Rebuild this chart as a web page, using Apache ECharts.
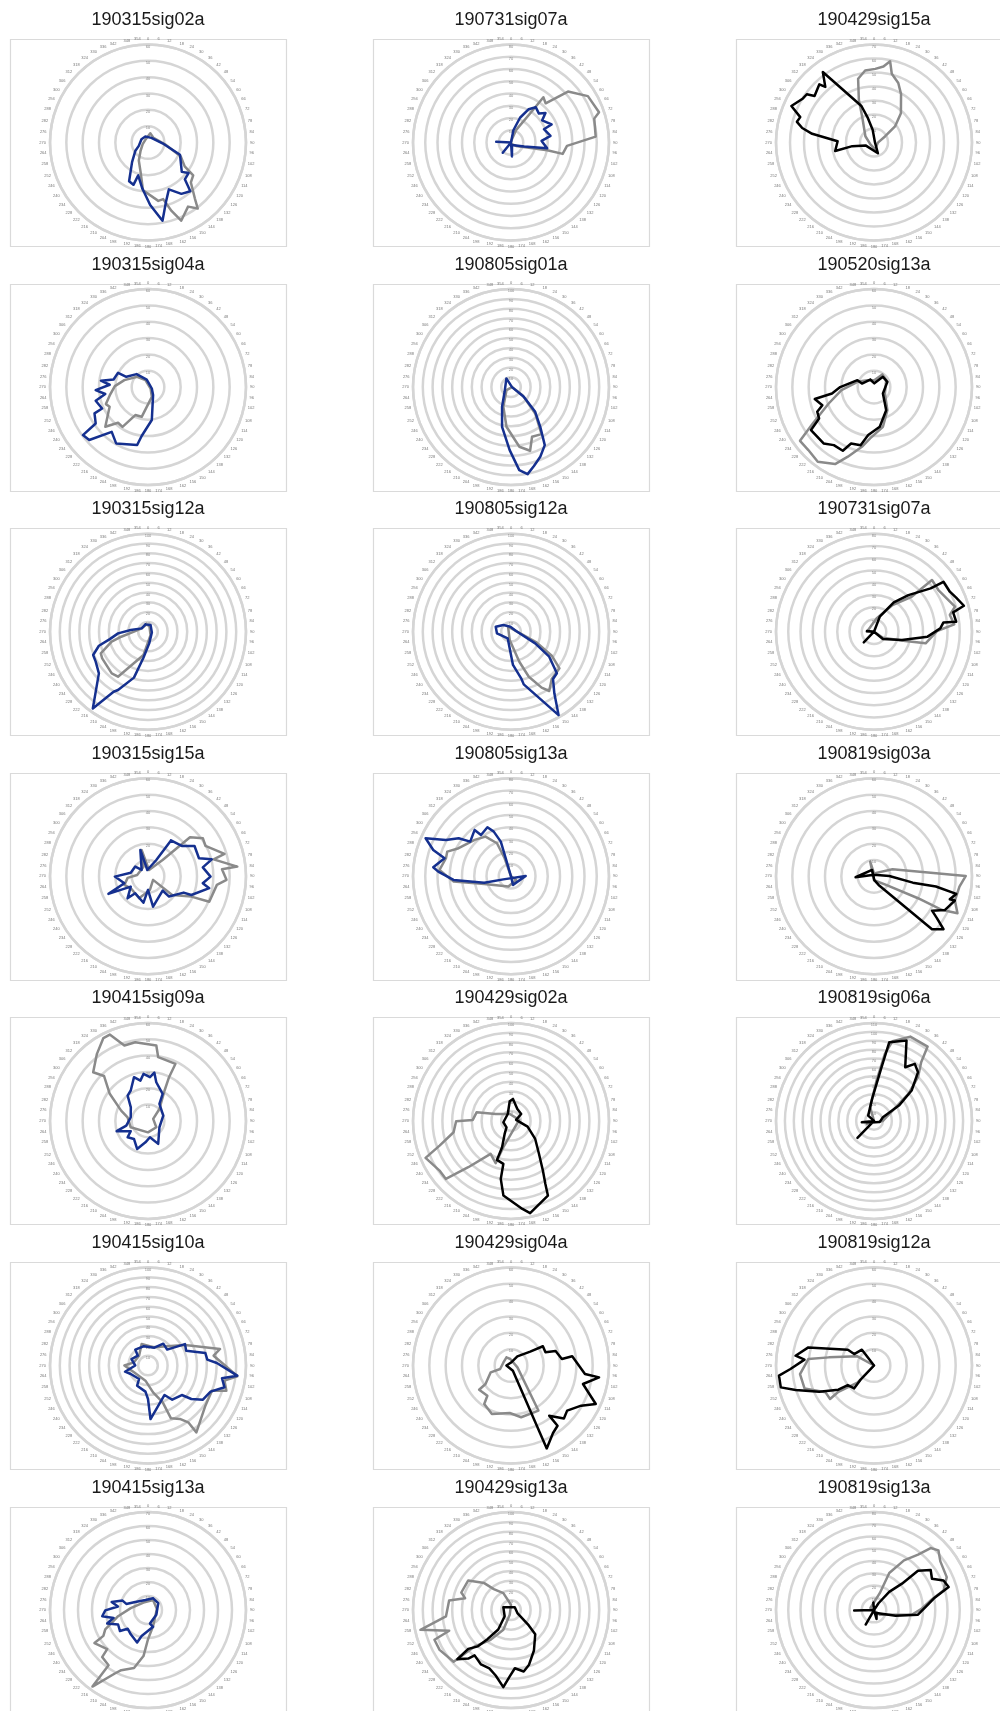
<!DOCTYPE html>
<html>
<head>
<meta charset="utf-8">
<title>Polar tuning traces</title>
<script src="https://cdn.jsdelivr.net/npm/echarts@6/dist/echarts.min.js"></script>
<style>
  html, body { margin: 0; padding: 0; background: #ffffff; }
  #chart { width: 1000px; height: 1711px; }
</style>
</head>
<body>
<div id="chart"></div>
<script>
// Panel titles, row by row (three per row)
const panelNames = [
  '190315sig02a', '190731sig07a', '190429sig15a',
  '190315sig04a', '190805sig01a', '190520sig13a',
  '190315sig12a', '190805sig12a', '190731sig07a',
  '190315sig15a', '190805sig13a', '190819sig03a',
  '190415sig09a', '190429sig02a', '190819sig06a',
  '190415sig10a', '190429sig04a', '190819sig12a',
  '190415sig13a', '190429sig13a', '190819sig13a'
];

// Number of radial rings in each panel, and the value step between rings
const ringCounts = [6, 8, 7, 6, 10, 6, 10, 10, 8, 6, 8, 6, 6, 10, 11, 10, 6, 6, 7, 10, 8];
const ringStep = 10;

// Angle ticks every 6 degrees, 0 at the top, clockwise
const angleStep = 6;

// Colour of the foreground trace in each panel
const traceColours = [
  'blue', 'blue', 'black',
  'blue', 'blue', 'black',
  'blue', 'blue', 'black',
  'blue', 'blue', 'black',
  'blue', 'black', 'black',
  'blue', 'black', 'black',
  'blue', 'black', 'black'
];

// Traces: [radius, angle in degrees]
const p01Grey = [[2.3,315],[5.8,14],[4.4,50],[10.5,96],[21.8,113],[26.8,123],[34.2,126],[35.9,133],[44.6,140],[50.6,143],[46.3,148],[52,157],[44.3,161],[35.9,165],[36.3,170],[29.4,186],[18.7,194],[12.4,207],[6.8,222],[3.4,253]];
const p01Line = [[6,250],[4.5,297],[4,336],[3.5,36],[8.9,93],[21,111],[27.4,131],[31.1,127],[31.9,135],[39.5,139],[37.5,147],[31.4,156],[37.8,163],[48.7,169.5],[38.3,178],[28.4,187],[21,196.6],[27.4,199],[26.4,206],[15.5,219],[9.2,237]];

const p02Grey = [[2.8,16],[10.9,22],[31.5,34],[45.4,35.6],[42.7,41.5],[62.4,48.2],[73.3,58.9],[76,71],[70.7,74],[69.3,86],[45.8,93.5],[43.2,102.4],[30.3,102],[5,124],[1,200]];
const p02Line = [[12.1,273],[0,0],[10.2,11],[21.5,20],[30.8,28],[35.2,35],[32.8,44],[37,49.5],[31.2,54.6],[36.3,66],[29,68],[32.7,80.5],[25,87],[29.9,99],[11.2,106.6],[2.2,158],[11.4,176],[0,0],[10.7,219],[0,0]];

const p03Grey = [[2.9,242],[7.6,306],[20.4,335.5],[32.2,340.4],[46.9,346],[51.8,353],[52.6,1],[54.7,7.1],[59.2,11.2],[50.7,14.5],[45.9,22.2],[39.6,29.2],[28.4,42.6],[18.9,52.6],[9.2,60.7],[2.8,91],[5,170]];
const p03Line = [[0.7,90],[9.2,354],[17.9,346],[27.6,341],[62.2,324],[52.8,318.8],[57,316.8],[53.9,308],[59.1,305.7],[59.7,301.8],[64.5,293.8],[55.7,289],[57,285],[52.3,281.4],[44.6,278],[26,272],[28.4,257.6],[15.7,260.5],[6.4,251],[8.2,160]];

const p04Grey = [[4.6,340],[9.2,313.4],[15.1,286.4],[20.3,271.7],[23.9,258],[27.8,248],[26.4,242.9],[35.7,227.1],[28.5,220],[28.9,212.7],[18.8,204.4],[18.6,192],[6.4,158.5],[1.8,118]];
const p04Line = [[4.7,350.5],[10.6,318.7],[14.7,295.4],[20.3,295.5],[21.6,282.5],[29.1,277.7],[23.5,273.5],[32.1,266.7],[26.5,260.8],[33.1,255.4],[31,245],[36.5,243.8],[39,235.2],[49.5,233.6],[48.4,228],[35.3,219],[39.6,209.5],[36.1,190.6],[30.2,187.4],[20.3,173.4],[5.8,147.6],[2.5,110]];

const p05Grey = [[1,90],[14.3,125],[36.5,137.4],[57.2,147],[55,157],[67.8,163.3],[61.5,172],[40.7,186.5],[21.5,201.3],[5.5,236]];
const p05Line = [[10,332],[1,90],[16.3,127],[35.3,135.6],[50.3,143.6],[68.5,149.8],[77.1,157.2],[83.9,163.8],[90.4,169.2],[85.1,174.3],[64.3,181.2],[41.5,192.7],[22,204.5],[8.1,233.6]];

const p06Grey = [[4.2,2],[9.3,33.4],[8.6,60],[7.7,120],[16.3,149.8],[24.9,167.3],[31.5,184.3],[37.3,191.5],[45.5,200.6],[52.8,206.8],[57.2,217],[55.7,226.2],[56,234],[43.6,239.3],[29.5,250.1],[20,264.7],[10.6,287.7],[6,314.6]];
const p06Line = [[5.2,333.4],[2.3,5],[8.3,41],[8.8,68.5],[6.7,125.5],[16,152.2],[24.5,171.7],[29.6,186.9],[36.5,193],[37.3,202.1],[43.4,206.1],[43.2,214.7],[46.3,221.8],[46.7,235.7],[38.7,240.3],[37.9,246.5],[33.5,250.7],[37,258.6],[26,261.4],[20.7,270],[11,292.8],[7.7,286.6]];

const p07Grey = [[7.6,350],[5.5,16],[4.3,143],[24.2,191],[55.2,213.7],[56.4,221],[54.1,239.8],[53,245.3],[38.5,254.6],[27.8,259.4],[14.3,270],[7.3,298]];
const p07Line = [[7.9,341],[7.3,21],[4,100],[12,174],[26.9,190],[49,197],[66.9,207.2],[70.6,209.8],[96.5,215.7],[65.7,229.7],[61.5,240.2],[60.8,247],[52.1,254],[39.7,259],[30.6,266.8],[17.7,275.5],[7.3,297.6]];

const p08Grey = [[6,330],[28.2,112.7],[48.3,120.5],[62,127.1],[63.7,139.3],[72,147.2],[65.1,151.3],[49.4,158.4],[31.8,164.5],[8.6,189]];
const p08Line = [[10.3,311],[5.1,353],[5.2,82],[27.4,115.7],[46.6,123.2],[63.2,132.2],[64.6,138.4],[76.9,144.9],[98,150.3],[55.3,166.4],[48.7,167.7],[34,176.6],[7.6,206],[14.4,263],[16.4,288]];

const p09Grey = [[5.8,270],[11,10.8],[26.5,34.8],[41.9,47.1],[63.4,48.3],[62.6,57.1],[69.2,72.8],[63.4,77.6],[65.8,84.8],[51.5,89.4],[43.2,102.7],[26.6,106.6],[8.8,123.8],[0,0]];
const p09Line = [[5.8,275.5],[0,0],[13.1,21],[28.9,34],[41,43.2],[58.2,52.6],[69.8,54.3],[70,62.2],[72.6,67.5],[76.4,73.9],[66.5,76.3],[67.6,83.1],[57.2,82.4],[54.2,87.1],[43.9,95.3],[23.8,106.5],[9.4,129.5],[0,0],[12.1,223.6],[0,0]];

const p10Grey = [[13.4,41.9],[35.1,47.1],[40.9,55.3],[39.8,62.1],[48.8,73.7],[41.5,75.5],[55,83.8],[45.5,84.6],[48.1,92.6],[42.5,97.1],[40.6,112.5],[29.3,115.1],[18.7,127.6],[3.8,125],[8.4,172],[14.5,202],[12.8,235],[15.4,250],[12.5,265.5],[6.7,277],[6.5,335],[16.6,346.4],[3.9,9]];
const p10Line = [[26.1,32.6],[27.8,48],[34,56.9],[33.1,70.5],[40.4,75.1],[34,80.7],[38.3,90.3],[33.8,97.2],[38.2,101],[28.9,113.3],[24,114.6],[17.9,133.9],[12.5,134.2],[18.8,170.5],[8.3,180],[16.4,189.7],[13,217],[18.4,222.9],[12.3,239.2],[26.5,246],[15.1,253.6],[20.3,269.5],[10.8,281.9],[9.8,307.3],[5.5,315],[16.8,343.8],[3.9,354],[11.2,27]];

const p11Grey = [[0,0],[15.6,340.5],[29.3,337],[38.5,327.3],[42,315],[48.5,298.2],[55.8,291.2],[55.1,285.5],[58.6,275.1],[47,264.7],[22.7,254],[8.6,194],[5.1,125],[0,0]];
const p11Line = [[0,0],[16.7,343.6],[29.5,343.6],[39.1,338.9],[44.4,334.3],[41.7,324],[48.1,321.9],[43.7,310.4],[52.8,306],[60.9,299.2],[76.3,294],[67,288.7],[56.2,285.2],[63.9,276.6],[59.5,273.7],[47,266.4],[22.5,256.6],[6.7,248],[12,89],[7.2,167],[0,0]];

const p12Grey = [[9.3,345.4],[1.8,0],[12.1,69.4],[34.8,86.3],[56.2,89.8],[52.7,96.9],[51.7,106.7],[55.9,113.9],[46.6,116.3],[30.1,116.5],[9.1,125.4],[2.4,180]];
const p12Line = [[11.3,267],[1,0],[9.4,89],[24.1,99.3],[38.4,99.4],[51.5,102.1],[48.5,106.9],[51.7,106.7],[48,115.5],[41.3,120.6],[46.4,123.7],[53.5,127.3],[48.1,132.4],[6,152],[2.4,175],[4.1,343]];

const p13Grey = [[3.4,69],[10.1,43.8],[21.2,28.6],[29.7,25.7],[38.8,25.7],[39.5,9.1],[46.4,6.3],[48.8,350.8],[48.4,342.6],[57.8,336.1],[57.6,331.7],[51.6,322.7],[44.9,311.6],[38.5,315.6],[28.7,305.3],[17.6,291],[12.7,280],[11.3,249.7],[7,180],[6.4,127.4]];
const p13Line = [[21.4,330.4],[28.1,342.2],[25.1,349.3],[28.9,354.5],[26.8,2.6],[29.8,7.5],[24.2,12.1],[18.8,28.5],[12.5,34],[9.9,70.9],[8,119],[15.4,156.1],[10.1,173.2],[13.2,186.8],[18.4,201.2],[14,217.9],[16,231.2],[12.3,239.2],[20.2,251.8],[13.6,257.7],[10.8,281.9],[13.4,308.3],[19.9,321.2]];

const p14Grey = [[8.5,83],[7.2,350],[17.1,294.5],[36.2,284],[39,271.5],[56,269.7],[59.7,258.8],[77.1,250.9],[95,246.6],[88.8,235.2],[89,228.3],[64.3,222.7],[39.6,211.7],[45.9,199.9],[28,196.2],[7.6,149]];
const p14Line = [[20.1,356.3],[22.5,5.1],[13.8,28],[12.6,55.7],[5.3,79],[17.9,109],[30.8,126.7],[44.2,139.7],[60.2,147.3],[73.3,151.4],[85,153.7],[96.2,168.3],[90.6,172.6],[76.6,185.8],[60.1,190],[44.6,190.1],[42.3,199.8],[28.4,198.7],[14.8,206],[8,215],[7.9,260],[7.8,335]];

const p15Grey = [[0,0],[16,344.3],[45.4,3.6],[76.2,9.2],[91.9,13.1],[103,23.3],[102.9,35.8],[84.5,38.8],[69.6,45.2],[49.1,51.8],[23.8,61],[9.9,90],[8.6,247]];
const p15Line = [[0,0],[8.8,312],[24.8,355],[59,7.7],[90,11],[97.4,22],[69.7,30.2],[78.7,35.6],[73.7,42.1],[54.3,51.1],[32.8,58.4],[10.8,67.9],[6.6,100],[13.8,263.6],[0,0],[26.6,224.3]];

const p16Grey = [[22.8,343.5],[19.3,15.6],[27.7,44.9],[43.1,61],[75.4,77.1],[67.7,81.5],[78.1,89.6],[91.8,96.9],[79.6,101.2],[84,107.8],[70,111.5],[71.5,125],[84.2,144.1],[71,144.7],[63.5,149.2],[58.8,156.5],[40.5,158.2],[27.9,169.3],[15.7,189.5],[15.9,243.9],[24.1,270],[14.7,282.6],[13.5,317.7]];
const p16Line = [[20.1,346.8],[19.3,19.7],[27.2,35],[25.4,50.3],[43.6,59.9],[41.8,68.8],[59.9,77.7],[60.8,84.3],[70.3,87.9],[91.7,96.5],[76.6,99.8],[81.2,105.9],[69.2,112.7],[66,121.9],[55.9,127.7],[45.8,131.1],[42.8,144.7],[34.5,150.7],[54.7,177.3],[34.2,180],[26.8,185.6],[23.4,208.3],[16.5,213.4],[19.6,243.7],[24.3,254.9],[13,270],[18.1,291.3],[14.4,313.9],[20.8,321.3]];

const p17Grey = [[5.7,331],[4,354],[4.1,106],[32.3,148.7],[32.3,168.9],[29.1,181.5],[31.9,201.5],[28.7,214.8],[23.5,218],[24.5,232.8],[19.3,234],[13.1,251.4],[7,252],[5,292]];
const p17Line = [[1.8,0],[6.8,35],[14.5,54.1],[22.8,58.9],[22.6,69.1],[28.7,72],[31.4,82.8],[37.9,81.4],[45.6,96.6],[54.4,97.7],[45.5,104.4],[57,114.4],[49.5,119.8],[44.1,128.8],[45.8,135],[38.6,142.7],[46.6,142.3],[48.7,148.1],[55.3,156.7],[3.4,160],[2.8,270]];

const p18Grey = [[0,0],[11.6,299],[28.1,280.2],[40.4,275.6],[45.6,263.4],[44.8,251.7],[33.9,241],[33.8,232.7],[27.1,233.6],[14.6,224]];
const p18Line = [[0,0],[7.1,322.5],[12.2,322.6],[14,300],[18.7,301.2],[31.4,289.5],[41.7,285.4],[48.4,277.1],[42.7,274.8],[51.2,267.6],[58.5,263.9],[58.6,256.8],[50.3,252.6],[37.2,244.5],[26.4,235.8],[20,233.3],[18.5,220.9],[12,223.4]];

const p19Grey = [[8,26.8],[6.4,83.7],[12,162.3],[20.8,180],[33,185.6],[42.5,193.6],[47,204],[51.1,207.6],[67.5,216],[48.4,215.6],[46.9,224.3],[40.3,226.3],[44.9,238.4],[36.8,240],[33.5,245.7],[27.5,250.7],[21.8,258.4],[12.4,276.5],[6.3,329]];
const p19Line = [[9.2,23.4],[8.8,56],[6.8,119],[9.7,171.7],[12.5,163],[19,193.9],[24.4,198.6],[21.2,215.5],[19.7,227.6],[25,233.3],[23.7,244.3],[30.7,251.8],[25.2,257.2],[33,262.3],[30.5,269.6],[21.6,276.9],[26.6,282.6],[19.4,290.5],[16.1,285.9],[10.8,302.6],[7.4,346]];

const p20Grey = [[5.4,0],[19,335.7],[27.7,320.6],[38.8,315.3],[53.1,304.8],[53.8,289.5],[48.4,284.6],[63.9,278.9],[66.7,264.4],[94.6,257.7],[66.5,251.5],[83.8,248.8],[83.4,240.9],[78.8,228],[52.5,225],[36.8,214.5],[21.6,201.2],[5,195]];
const p20Line = [[8.4,291],[4.9,52],[7.2,115],[24,130.8],[34.9,134.9],[47.4,150.4],[59,162],[64,168.3],[59.5,176.2],[67.7,181.1],[79,185.7],[68.5,193.2],[63.4,200.4],[63.3,208.9],[59.3,218.8],[66,221.4],[74.2,227.5],[58.9,227.8],[50.1,222.4],[38.2,219],[23.7,213.3],[9,226]];

const p21Grey = [[3.4,300],[14.6,18.8],[32.7,22.4],[47.4,31.1],[57.8,38.5],[68.6,42.4],[71.7,47.2],[67.2,53.7],[65.2,65.6],[59,74.2],[48.2,79.3],[38.5,88.8],[31,97.1],[6.1,129]];
const p21Line = [[16.2,269],[0,0],[6.7,33.3],[19.4,39.8],[31.4,46.6],[48.2,48.1],[56.7,54.7],[53.8,61.6],[61.7,66.9],[63.8,72.8],[49.9,78.9],[44,84.5],[36.1,96],[18.2,104.5],[3.2,139],[7.5,164],[0,0],[13.6,210],[0,0],[6.2,355],[0,0]];

const greyTraces = [p01Grey, p02Grey, p03Grey, p04Grey, p05Grey, p06Grey, p07Grey, p08Grey, p09Grey, p10Grey, p11Grey,
  p12Grey, p13Grey, p14Grey, p15Grey, p16Grey, p17Grey, p18Grey, p19Grey, p20Grey, p21Grey];
const mainTraces = [p01Line, p02Line, p03Line, p04Line, p05Line, p06Line, p07Line, p08Line, p09Line, p10Line, p11Line,
  p12Line, p13Line, p14Line, p15Line, p16Line, p17Line, p18Line, p19Line, p20Line, p21Line];

// ---- layout and styling ----
const palette = { blue: '#15308f', black: '#000000', grey: '#8a8a8a', ring: '#d5d5d5', frame: '#dadada' };
const layout = { cols: 3, boxW: 276, boxH: 207, colPitch: 363, rowPitch: 244.6, left: 10, top: 39, radius: 98, titleGap: 19 };

// each trace is drawn as a closed loop
function closeLoop(points) {
  return points.concat([points[0]]);
}

const polar = [], angleAxis = [], radiusAxis = [], series = [], graphic = [];

panelNames.forEach(function (name, k) {
  const row = Math.floor(k / layout.cols);
  const col = k % layout.cols;
  const x0 = layout.left + col * layout.colPitch;
  const y0 = layout.top + row * layout.rowPitch;
  const cx = x0 + layout.boxW / 2;
  const cy = y0 + layout.boxH / 2;

  graphic.push({
    type: 'rect', silent: true,
    shape: { x: Math.round(x0) + 0.5, y: Math.round(y0) + 0.5, width: layout.boxW, height: layout.boxH },
    style: { fill: 'none', stroke: palette.frame, lineWidth: 1.2 }
  });
  graphic.push({
    type: 'text', silent: true, x: cx, y: y0 - layout.titleGap,
    style: {
      text: name, fill: '#1a1a1a', font: '18px "Liberation Sans", Arial, sans-serif',
      textAlign: 'center', textVerticalAlign: 'middle'
    }
  });

  polar.push({ center: [cx, cy], radius: layout.radius });

  angleAxis.push({
    polarIndex: k, type: 'value', min: 0, max: 360, interval: angleStep,
    startAngle: 90, clockwise: true,
    axisLine: { show: true, lineStyle: { color: palette.ring, width: 2.5 } },
    axisTick: { show: false },
    splitLine: { show: false },
    axisLabel: {
      fontSize: 4, color: '#777', margin: 4,
      formatter: function (v) { return v === 360 ? '' : String(v); }
    }
  });

  radiusAxis.push({
    polarIndex: k, type: 'value', min: 0, max: ringCounts[k] * ringStep, interval: ringStep,
    axisLine: { show: false },
    axisTick: { show: false },
    splitLine: { show: true, lineStyle: { color: palette.ring, width: 2.5 } },
    axisLabel: { fontSize: 4, color: '#888', margin: 0, align: 'center', verticalAlign: 'top', showMinLabel: false }
  });

  series.push({
    type: 'line', coordinateSystem: 'polar', polarIndex: k,
    data: closeLoop(greyTraces[k]), symbol: 'none', silent: true, z: 2,
    lineStyle: { color: palette.grey, width: 2.5, join: 'round', cap: 'round' }
  });
  series.push({
    type: 'line', coordinateSystem: 'polar', polarIndex: k,
    data: closeLoop(mainTraces[k]), symbol: 'none', silent: true, z: 3,
    lineStyle: { color: palette[traceColours[k]], width: 2.5, join: 'round', cap: 'round' }
  });
});

const chart = echarts.init(document.getElementById('chart'), null, { renderer: 'canvas', width: 1000, height: 1711 });
chart.setOption({
  backgroundColor: '#ffffff',
  animation: false,
  textStyle: { fontFamily: '"Liberation Sans", Arial, sans-serif' },
  polar: polar,
  angleAxis: angleAxis,
  radiusAxis: radiusAxis,
  series: series,
  graphic: graphic
});
</script>
</body>
</html>
